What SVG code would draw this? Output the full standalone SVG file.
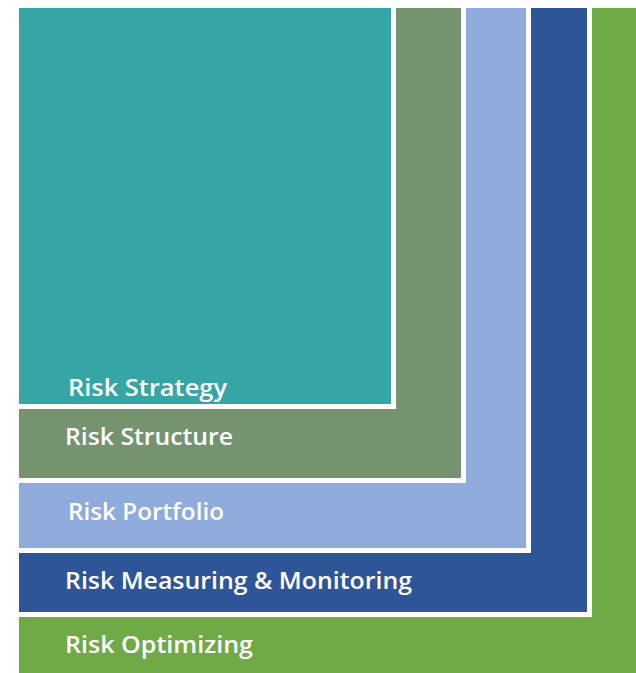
<svg xmlns="http://www.w3.org/2000/svg" width="636" height="673" viewBox="0 0 636 673">
<style>
.lbl{font-family:"Open Sans","Liberation Sans",sans-serif;font-weight:600;font-size:23px;fill:#ffffff}
.gap{stroke:#ffffff;stroke-width:10}
</style>
<rect x="0" y="0" width="636" height="673" fill="#ffffff"/>
<g id="risk-optimizing">
<rect x="19" y="8" width="617" height="665" fill="#70AA47"/>
<text class="lbl" x="65" y="653" textLength="188" lengthAdjust="spacingAndGlyphs">Risk Optimizing</text>
</g>
<g id="risk-measuring">
<rect x="19" y="3" width="568" height="609" fill="#2E5597" class="gap" paint-order="stroke"/>
<rect x="19" y="8" width="568" height="604" fill="#2E5597"/>
<text class="lbl" x="65" y="589" textLength="347" lengthAdjust="spacingAndGlyphs">Risk Measuring &amp; Monitoring</text>
</g>
<g id="risk-portfolio">
<rect x="19" y="3" width="507" height="545" fill="#8FABDC" class="gap" paint-order="stroke"/>
<rect x="19" y="8" width="507" height="540" fill="#8FABDC"/>
<text class="lbl" x="68" y="520" textLength="156" lengthAdjust="spacingAndGlyphs">Risk Portfolio</text>
</g>
<g id="risk-structure">
<rect x="19" y="3" width="442" height="475" fill="#74936E" class="gap" paint-order="stroke"/>
<rect x="19" y="8" width="442" height="470" fill="#74936E"/>
<text class="lbl" x="65" y="445" textLength="168" lengthAdjust="spacingAndGlyphs">Risk Structure</text>
</g>
<g id="risk-strategy">
<rect x="19" y="3" width="372" height="401" fill="#36A5A5" class="gap" paint-order="stroke"/>
<rect x="19" y="8" width="372" height="396" fill="#36A5A5"/>
<text class="lbl" x="68" y="396" textLength="159" lengthAdjust="spacingAndGlyphs">Risk Strategy</text>
</g>
<rect x="0" y="0" width="636" height="8" fill="#ffffff"/>
<rect x="0" y="0" width="19" height="673" fill="#ffffff"/>
</svg>
